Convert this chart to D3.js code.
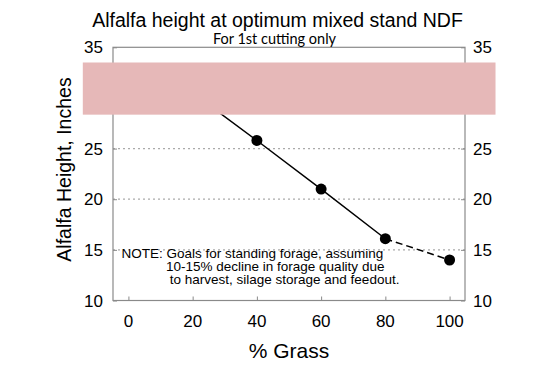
<!DOCTYPE html>
<html><head><meta charset="utf-8">
<script src="https://cdn.jsdelivr.net/npm/d3@7"></script>
<style>body{margin:0;background:#fff}svg{display:block}</style>
</head><body>
<script>
const grass = [20, 40, 60, 80, 100];
const height = [30.5, 25.8, 21.0, 16.1, 14.0];
const xTicks = [0, 20, 40, 60, 80, 100];
const yTicks = [10, 15, 20, 25, 30, 35];
const gridTicks = [15, 20, 25, 30];
const bandRange = [28.35, 33.5];
const bandXRange = [-14.2, 114.3];
const noteLines = ["NOTE: Goals for standing forage, assuming", "10-15% decline in forage quality due", " to harvest, silage storage and feedout."];

const W = 555, H = 366;
const svg = d3.select("body").append("svg").attr("width", W).attr("height", H);
const x = d3.scaleLinear().domain([-4.8, 104.8]).range([113, 465]);
const y = d3.scaleLinear().domain([10, 35]).range([300.5, 47.3]);
const font = "'Liberation Sans', Arial, Helvetica, sans-serif";
const frameColor = "#8a8a8a";

// grid
svg.append("g").selectAll("line").data(gridTicks).join("line")
  .attr("x1", x.range()[0]).attr("x2", x.range()[1])
  .attr("y1", d => y(d)).attr("y2", d => y(d))
  .attr("stroke", "#aaa").attr("stroke-width", 1.2).attr("stroke-dasharray", "2,3");

// axes with inward ticks
const gx = svg.append("g").attr("transform", `translate(0,${y.range()[0]})`)
  .call(d3.axisTop(x).tickValues(xTicks).tickSize(4).tickFormat(""));
const gl = svg.append("g").attr("transform", `translate(${x.range()[0]},0)`)
  .call(d3.axisRight(y).tickValues(yTicks).tickSize(4).tickFormat(""));
const gr = svg.append("g").attr("transform", `translate(${x.range()[1]},0)`)
  .call(d3.axisLeft(y).tickValues(yTicks).tickSize(4).tickFormat(""));
[gx, gl, gr].forEach(g => { g.select(".domain").remove(); g.selectAll("line").attr("stroke", frameColor); });

// frame
svg.append("rect").attr("x", x.range()[0]).attr("y", y.range()[1])
  .attr("width", x.range()[1] - x.range()[0]).attr("height", y.range()[0] - y.range()[1])
  .attr("fill", "none").attr("stroke", frameColor).attr("stroke-width", 1.2);

// tick labels
svg.append("g").selectAll("text").data(xTicks).join("text")
  .attr("x", d => x(d)).attr("y", 327).attr("text-anchor", "middle")
  .attr("font-family", font).attr("font-size", 17).text(d => d);
svg.append("g").selectAll("text").data(yTicks).join("text")
  .attr("x", 103).attr("y", d => y(d) + 6).attr("text-anchor", "end")
  .attr("font-family", font).attr("font-size", 17).text(d => d);
svg.append("g").selectAll("text").data(yTicks).join("text")
  .attr("x", 473).attr("y", d => y(d) + 6).attr("text-anchor", "start")
  .attr("font-family", font).attr("font-size", 17).text(d => d);

// lines
const pts = grass.map((g, i) => [g, height[i]]);
const line = d3.line().x(d => x(d[0])).y(d => y(d[1]));
svg.append("path").datum(pts.slice(0, 4)).attr("d", line)
  .attr("fill", "none").attr("stroke", "#000").attr("stroke-width", 1.5);
svg.append("path").datum(pts.slice(3)).attr("d", line)
  .attr("fill", "none").attr("stroke", "#000").attr("stroke-width", 1.5).attr("stroke-dasharray", "7,4");
svg.append("g").selectAll("circle").data(pts).join("circle")
  .attr("cx", d => x(d[0])).attr("cy", d => y(d[1])).attr("r", 5.5).attr("fill", "#000");

// band
svg.append("rect").attr("x", x(bandXRange[0])).attr("width", x(bandXRange[1]) - x(bandXRange[0]))
  .attr("y", y(bandRange[1])).attr("height", y(bandRange[0]) - y(bandRange[1]))
  .attr("fill", "#e6b8b8");

// titles
svg.append("text").attr("x", 277.5).attr("y", 26.5).attr("text-anchor", "middle")
  .attr("font-family", font).attr("font-size", 19.5).text("Alfalfa height at optimum mixed stand NDF");
svg.append("text").attr("x", 274.5).attr("y", 44).attr("text-anchor", "middle")
  .attr("font-family", "Lato, 'Open Sans', sans-serif").attr("font-size", 14.5).text("For 1st cutting only");
svg.append("text").attr("x", 289).attr("y", 358).attr("text-anchor", "middle")
  .attr("font-family", font).attr("font-size", 21).text("% Grass");
svg.append("text").attr("transform", "translate(71,169.5) rotate(-90)").attr("text-anchor", "middle")
  .attr("font-family", font).attr("font-size", 19.5).text("Alfalfa Height, Inches");

// note
const noteX = [121.5, 166, 166];
const noteY = [258.3, 271, 283.5];
svg.append("g").selectAll("text").data(noteLines).join("text")
  .attr("x", (d, i) => noteX[i]).attr("y", (d, i) => noteY[i])
  .attr("font-family", font).attr("font-size", 13.5).attr("xml:space", "preserve")
  .style("white-space", "pre").text(d => d);
</script>
</body></html>
